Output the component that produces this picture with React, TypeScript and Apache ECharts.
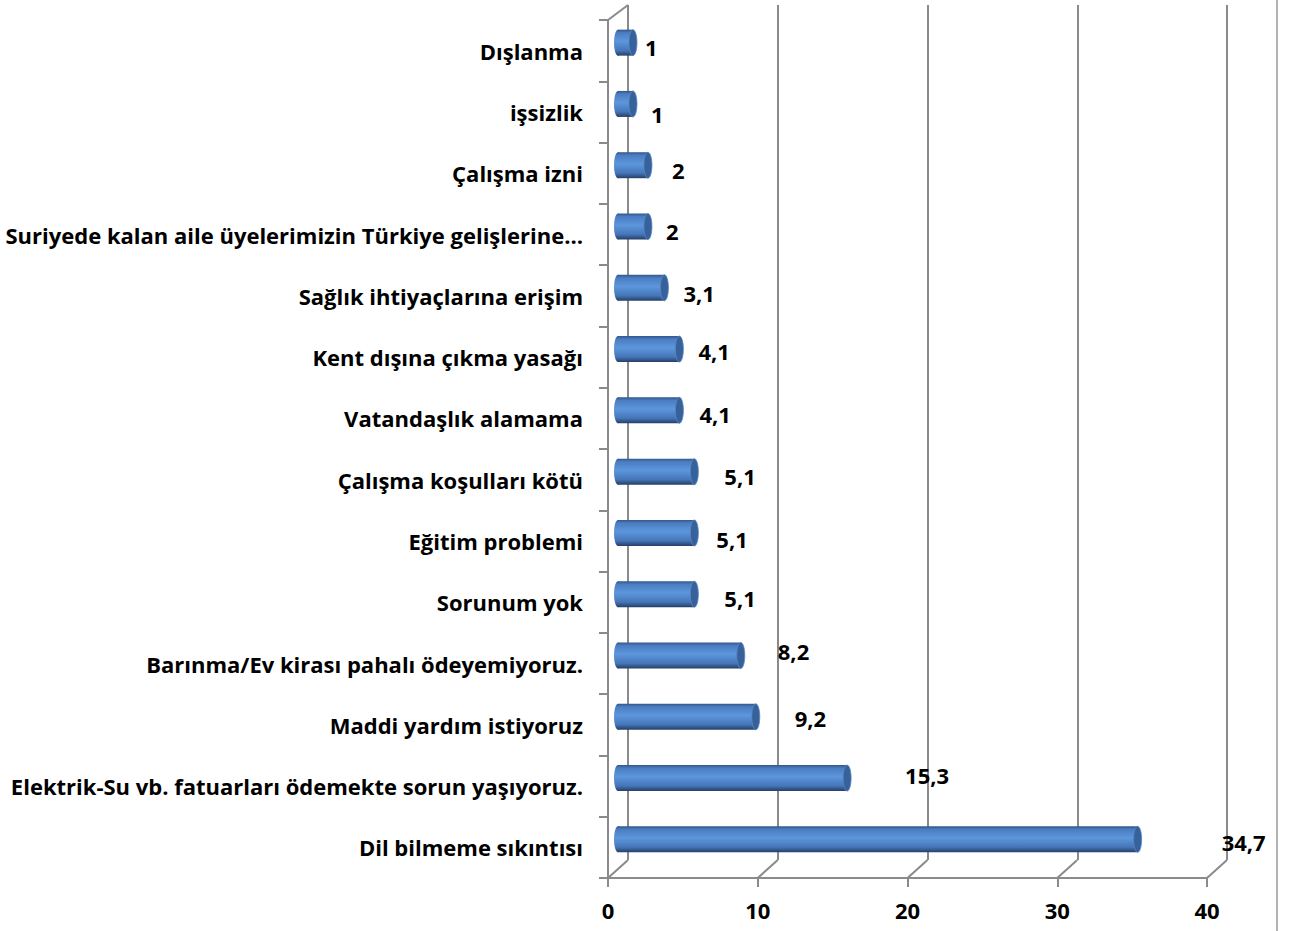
import React, { useEffect, useRef } from "react";
import * as echarts from "echarts";

const categories = [
  "Dışlanma",
  "işsizlik",
  "Çalışma izni",
  "Suriyede kalan aile üyelerimizin Türkiye gelişlerine…",
  "Sağlık ihtiyaçlarına erişim",
  "Kent dışına çıkma yasağı",
  "Vatandaşlık alamama",
  "Çalışma koşulları kötü",
  "Eğitim problemi",
  "Sorunum yok",
  "Barınma/Ev kirası pahalı ödeyemiyoruz.",
  "Maddi yardım istiyoruz",
  "Elektrik-Su vb. fatuarları ödemekte sorun yaşıyoruz.",
  "Dil bilmeme sıkıntısı",
];
const values = [1, 1, 2, 2, 3.1, 4.1, 4.1, 5.1, 5.1, 5.1, 8.2, 9.2, 15.3, 34.7];
const xTicks = [0, 10, 20, 30, 40];

// label offsets (style) relative to bar end
const labelDx = [12, 18, 24, 18, 19, 19, 20, 30, 22, 30, 37, 39, 58, 84];
const labelDy = [4, 10, 5, 4, 5, 2, 4, 4, 6, 4, -5, 1, -3, 3];

const FONT = "'Open Sans'";
const GRID = "#8a8a8a";

// layout
const FL = 608, FT = 20, FW = 599, FH = 858; // front plane
const DX = 20, DY = -15; // depth offset
const BAR_DX = 10, BAR_DY = -8, BAR_H = 26, CAP_RX = 4;

export default function App() {
  const ref = useRef<HTMLDivElement>(null);
  useEffect(() => {
    document.body.style.margin = "0";
    const chart = echarts.init(ref.current!, null, { renderer: "svg" });
    const bodyGrad = () =>
      new echarts.graphic.LinearGradient(0, 0, 0, 1, [
        { offset: 0, color: "#34578a" },
        { offset: 0.12, color: "#4a7dc2" },
        { offset: 0.45, color: "#5d96dc" },
        { offset: 0.8, color: "#4576b8" },
        { offset: 1, color: "#253e66" },
      ]);
    const fbottom = FT + FH;
    const graphics: any[] = [];
    graphics.push({
      type: "line",
      shape: { x1: FL, y1: FT, x2: FL + DX, y2: FT + DY },
      style: { stroke: GRID, lineWidth: 2 },
      z: 1,
    });
    xTicks.forEach((t) => {
      const x = FL + (FW * t) / 40;
      graphics.push({
        type: "line",
        shape: { x1: x, y1: fbottom, x2: x + DX, y2: fbottom + DY - 3 },
        style: { stroke: GRID, lineWidth: 2 },
        z: 1,
      });
    });
    graphics.push({
      type: "line",
      shape: { x1: 1277, y1: 0, x2: 1277, y2: 931 },
      style: { stroke: "#9a9a9a", lineWidth: 1.5 },
    });

    chart.setOption({
      animation: false,
      backgroundColor: "#ffffff",
      grid: [
        { left: FL, top: FT, width: FW, height: FH },
        { left: FL + DX, top: FT + DY, width: FW, height: FH - 3 },
      ],
      xAxis: [
        {
          gridIndex: 0,
          type: "value",
          min: 0,
          max: 40,
          interval: 10,
          axisLine: { show: true, lineStyle: { color: GRID, width: 2 } },
          axisTick: { show: true, length: 9, lineStyle: { color: GRID, width: 2 } },
          splitLine: { show: false },
          axisLabel: {
            color: "#000",
            fontFamily: FONT,
            fontWeight: "bold",
            fontSize: 22,
            margin: 21,
          },
        },
        {
          gridIndex: 1,
          type: "value",
          min: 0,
          max: 40,
          interval: 10,
          axisLine: { show: false },
          axisTick: { show: false },
          axisLabel: { show: false },
          splitLine: { show: true, lineStyle: { color: GRID, width: 2 } },
        },
      ],
      yAxis: [
        {
          gridIndex: 0,
          type: "category",
          data: categories,
          inverse: true,
          axisLine: { show: true, lineStyle: { color: GRID, width: 2 } },
          axisTick: { show: true, length: 9, lineStyle: { color: GRID, width: 2 } },
          axisLabel: {
            color: "#000",
            fontFamily: FONT,
            fontWeight: "bold",
            fontSize: 22,
            margin: 25,
            interval: 0,
          },
        },
        {
          gridIndex: 1,
          type: "category",
          data: categories,
          inverse: true,
          show: false,
        },
      ],
      graphic: graphics,
      series: [
        {
          type: "custom",
          xAxisIndex: 0,
          yAxisIndex: 0,
          z: 5,
          data: values.map((v, i) => [v, categories[i]]),
          encode: { x: 0, y: 1 },
          renderItem: (params: any, api: any) => {
            const i = params.dataIndex;
            const v = api.value(0);
            const s = api.coord([0, i]);
            const e = api.coord([v, i]);
            const x0 = s[0] + BAR_DX;
            const x1 = e[0] + BAR_DX;
            const cy = s[1] + BAR_DY;
            return {
              type: "group",
              children: [
                {
                  type: "rect",
                  shape: { x: x0, y: cy - BAR_H / 2, width: x1 - x0, height: BAR_H },
                  style: { fill: bodyGrad() },
                },
                {
                  type: "ellipse",
                  shape: { cx: x0, cy, rx: CAP_RX, ry: BAR_H / 2 },
                  style: { fill: bodyGrad() },
                },
                {
                  type: "ellipse",
                  shape: { cx: x1, cy, rx: CAP_RX, ry: BAR_H / 2 },
                  style: { fill: "#36619a", stroke: "#5a86c0", lineWidth: 0.8 },
                },
                {
                  type: "text",
                  style: {
                    text: String(values[i]).replace(".", ","),
                    x: x1 + labelDx[i],
                    y: cy + labelDy[i],
                    fill: "#000",
                    font: `bold 22px ${FONT}`,
                    verticalAlign: "middle",
                    align: "left",
                  },
                },
              ],
            };
          },
        },
      ],
    });
    return () => chart.dispose();
  }, []);
  return (
    <div
      ref={ref}
      style={{ position: "fixed", left: 0, top: 0, width: 1291, height: 931 }}
    />
  );
}
